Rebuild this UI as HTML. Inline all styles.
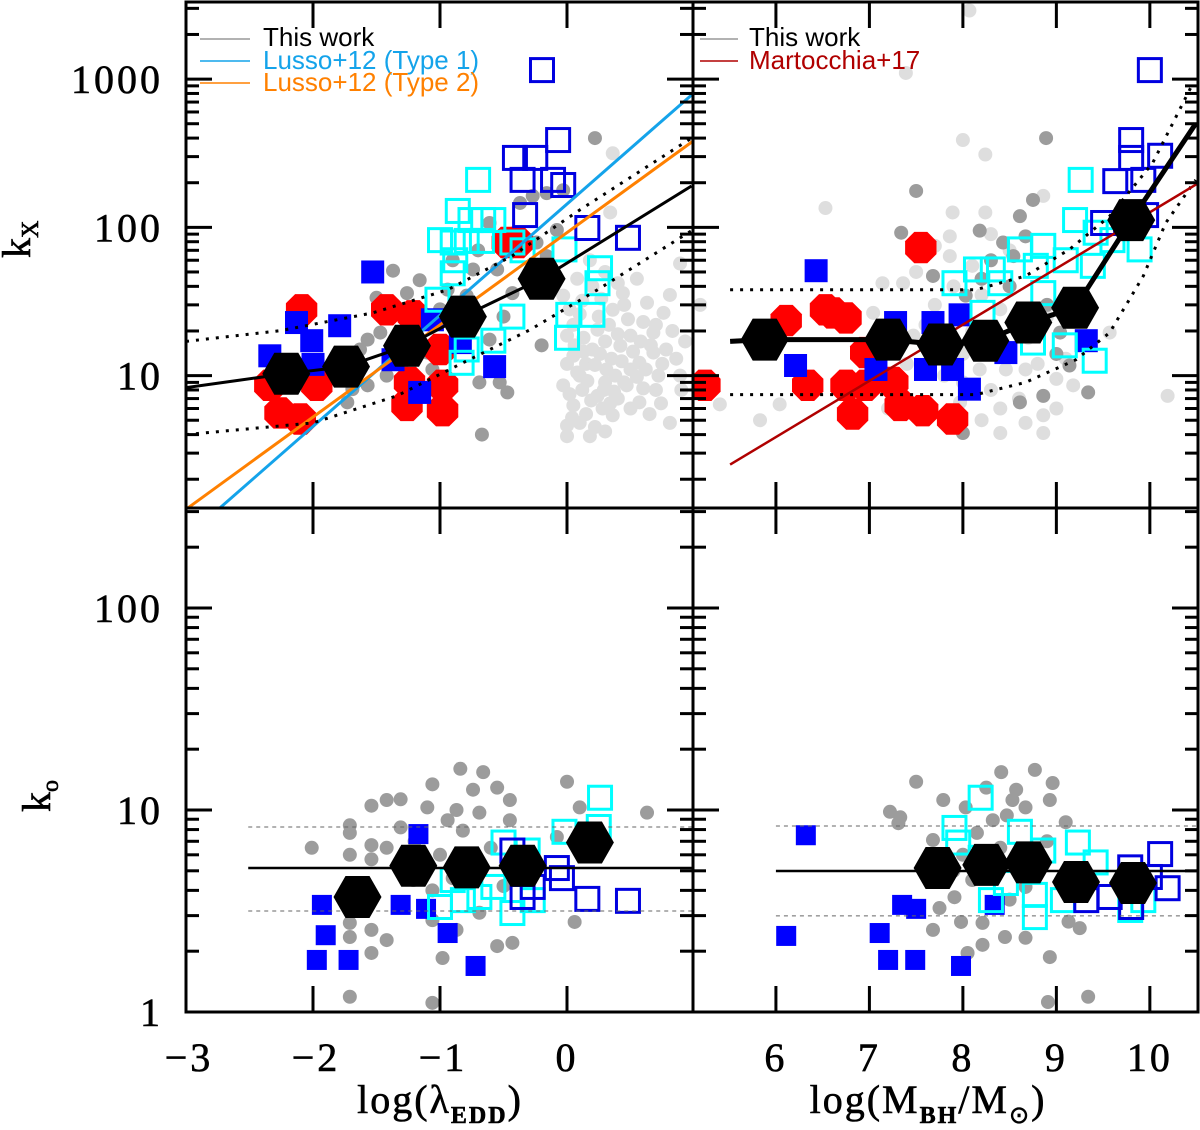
<!DOCTYPE html>
<html><head><meta charset="utf-8"><style>
html,body{margin:0;padding:0;background:#fff;}
svg{display:block;}
.tl{font-family:"Liberation Serif",serif;font-size:40px;fill:#000;letter-spacing:3px;stroke:#000;stroke-width:0.6px;}
.lg{font-family:"Liberation Sans",sans-serif;font-size:26px;}
</style></head><body>
<svg id="fig" width="1200" height="1130" viewBox="0 0 1200 1130" xmlns="http://www.w3.org/2000/svg">
<defs>
<clipPath id="cTL"><rect x="186" y="2" width="507" height="506"/></clipPath>
<clipPath id="cTR"><rect x="693" y="2" width="505" height="506"/></clipPath>
<clipPath id="cBL"><rect x="186" y="508" width="507" height="504"/></clipPath>
<clipPath id="cBR"><rect x="693" y="508" width="505" height="504"/></clipPath>
</defs>
<g id="layer"></g>
</svg>
<script>
// ---------- DATA ----------
const tlLightGray = [[0.36,316],[0.34,126],[0.89,57],[0.81,35],[0.63,31],[0.76,26.5],[0.44,36],[0.36,27.8],[0.24,20.4],[0.50,18.6],[0.68,14.3],[0.05,13.6],[0.10,10],[0.31,11],[0.47,8.6],[-0.03,8.6],[0.24,7.3],[0.36,5.4],[0.0,4.6],[0.18,3.9],[0.81,4.8],[0.57,6.6],[0.05,6.3],[0.89,10],[0.68,19.5],[-0.03,34.6],[0.57,12.2],[0.10,4.8],[0.42,15.9],[0.0,18.6],[0.15,12],[0.2,15],[0.3,9],[0.4,7],[0.12,8],[0.25,25],[0.05,22],[0.5,11],[0.7,8],[0.35,13],[0.15,5.5],[0.6,23],[0.08,10.5],[0.28,6],[0.45,30],[0.02,28],[0.2,40],[0.55,45],[0.75,12],[0.65,5.5],
[0.0,12],[0.02,7.5],[0.04,5.2],[0.06,16],[0.1,26],[0.13,18],[0.16,9.2],[0.19,6.8],[0.22,11.8],[0.22,4.5],[0.26,14],[0.29,8],[0.3,17],[0.33,22],[0.34,6.5],[0.38,10],[0.4,19],[0.43,12.5],[0.45,9],[0.48,24],[0.5,6],[0.52,14.5],[0.55,9.8],[0.58,17],[0.6,8.2],[0.62,11],[0.66,16],[0.7,22],[0.72,10],[0.74,6.5],[0.78,15],[0.83,20],[0.86,13],[0.9,8],[0.93,17],[0.12,32],[0.3,50],[0.4,42],[0.08,45],[0.18,60],[0.0,3.9],[0.3,4.2],[0.13,14.5],[0.37,7.8],[0.27,33]];
const tlGray = [[0.22,400],[-1.37,51],[-1.16,44],[-1.26,36],[-1.50,33.5],[-1.47,19.5],[-1.57,17.5],[-1.63,15],[-1.42,10],[-1.57,8.6],[-1.69,8.1],[-1.73,6.6],[-0.69,9],[-0.53,9],[-0.47,7.7],[-0.20,16],[-0.67,4.0],[-0.61,17.5],[-0.79,34.6],[-0.94,38],[-0.74,52],[-0.55,52],[-0.61,107],[-0.37,146],[-0.27,163],[-0.16,170],[-0.03,178],[-0.24,79],[-0.16,64],[-0.08,96],[-1.21,24],[-1.10,14.3],[-1.06,11],[-0.82,19.5],[-0.43,36],[-0.9,60],[-0.7,70],[-1.0,28],[-0.5,25],[-1.3,12]];
const tlRed = [[-2.09,27.8],[-2.34,8.6],[-2.26,5.6],[-2.10,5.1],[-1.97,8.6],[-1.42,27.8],[-1.21,25.3],[-1.0,15],[-1.24,9.0],[-1.26,6.3],[-0.98,8.6],[-0.98,5.8],[-0.47,79],[-0.39,79]];
const tlBlueFill = [[-1.53,50],[-2.34,13.6],[-2.13,22.8],[-2.01,17.2],[-1.79,21.7],[-2.0,11.9],[-1.37,12.8],[-1.06,23.8],[-0.84,16.7],[-0.57,11.5],[-1.16,7.7]];
const tlBlueOpen = [[-0.197,1150],[-0.41,294],[-0.25,294],[-0.07,388],[-0.35,209],[-0.11,209],[-0.03,193],[-0.33,121],[0.16,99],[0.48,85]];
const tlCyan = [[-0.70,209],[-0.86,129],[-0.76,112],[-0.66,112],[-0.58,112],[-1.0,82],[-0.90,79],[-0.79,81],[-0.67,81],[-0.88,60],[-0.90,49],[-0.43,79],[-0.35,70],[-0.02,71],[0.26,53],[0.24,42],[-1.02,32.5],[-0.43,25],[0.01,25.7],[0.20,25.7],[0.0,18],[-0.83,12.2],[-0.58,17.2],[-0.79,15]];
const tlHexX = [-2.21,-1.74,-1.26,-0.82,-0.20];
const tlHexY = [10.3,11.5,15.9,25,45];
const tlFitX = [-3,-2.21,-1.74,-1.26,-0.82,-0.20,0.98];
const tlFitY = [8.3,10.3,11.5,15.9,25,45,190];
const tlUpX = [-3,-2.26,-1.53,-0.94,-0.43,0.10,0.98];
const tlUpY = [17,20.1,26.5,37.9,64.3,131,400];
const tlLoX = [-3,-2,-1.34,-0.82,-0.29,0.24,0.98];
const tlLoY = [4.0,4.8,7.3,12.2,20.4,37.9,95];
const lusso1 = [0.125,0.75,-2.71];
const lusso2 = [0.111,0.622,-2.98];

const trLightGray = [[8.07,2900],[7.39,1100],[8.0,388],[8.24,310],[6.53,135],[5.19,30],[8.86,163],[9.57,19.5],[10.19,7.3],[5.83,5.0],[5.40,6.4],[6.04,6.4],[7.14,42],[7.36,42],[7.89,126],[7.86,87],[8.24,126],[8.40,4.1],[8.67,4.8],[8.86,4.1],[7.60,6.6],[7.11,14.3],[7.47,18.6],[8.18,11],[8.46,11],[8.86,5.4],[9.18,8.6],[8.67,11],[7.97,6.6],[7.04,26.5],[7.86,64],[8.3,8],[8.5,15],[8.1,20],[7.7,30],[8.9,25],[7.3,8],[8.0,14],[8.6,7],[9.0,9.5],[7.8,10],[8.4,28],
[7.5,50],[7.7,75],[8.1,55],[8.3,90],[8.5,70],[7.9,40],[8.2,35],[7.6,22],[8.7,18],[8.8,12],[9.1,13],[8.4,6],[8.2,5],[7.7,13],[7.4,12],[8.6,24],[9.0,6],[8.0,9],[7.2,6]];
const trGray = [[8.89,400],[7.50,176],[7.34,92],[8.18,95],[8.61,119],[8.75,153],[7.68,47],[8.43,79],[8.54,64],[9.04,19.5],[9.34,7.7],[8.86,7.3],[8.61,6.6],[8.0,4.1],[8.03,34.6],[8.67,87],[9.14,11.7],[8.3,60],[8.5,40],[8.9,30],[8.2,45],[9.0,14]];
const trRed = [[7.55,73],[5.24,8.6],[6.11,23.5],[6.53,27.8],[6.75,24.5],[6.34,8.6],[6.82,5.5],[6.75,8.6],[6.96,8.6],[7.25,9.0],[7.33,6.3],[7.57,5.8],[7.89,5.1],[6.96,14.3],[6.61,26.5]];
const trBlueFill = [[6.43,51],[6.21,11.7],[7.28,22.8],[7.68,22.8],[7.97,25.7],[7.60,11],[8.07,8.1],[8.46,14.3],[9.32,17.2],[7.89,11],[7.07,11]];
const trBlueOpen = [[10.0,1150],[9.80,388],[9.80,294],[10.11,304],[9.63,205],[9.93,209],[9.96,121],[9.50,107]];
const trCyan = [[9.26,209],[9.20,112],[8.14,52],[8.32,52],[7.91,42],[8.40,42],[8.61,71],[8.86,75],[8.78,55],[9.10,60],[9.39,55],[9.42,92],[9.89,71],[8.75,16.7],[9.09,16],[9.41,12.6],[8.86,36],[8.21,26.5],[9.60,82]];
const trHexX = [5.88,7.20,7.76,8.24,8.70,9.20,9.80];
const trHexY = [17.5,17.5,16.2,17.2,22.8,28.7,112];
const trFitX = [5.51,5.88,7.20,7.76,8.24,8.70,9.20,9.80,10.49];
const trFitY = [17,17.5,17.5,16.2,17.2,22.8,28.7,112,500];
const trUpX = [5.51,8.14,8.67,9.14,9.57,10.03,10.46];
const trUpY = [38,38,47,71,119,272,935];
const trLoX = [5.51,8.14,8.67,9.21,9.57,9.93,10.17,10.49];
const trLoY = [7.45,7.45,9.0,12.8,19.5,47,107,209];
const marto = [0.40,0.379,5.51];

const blGray = [[-0.84,16],[-0.66,15.4],[-1.06,13.4],[-0.74,12.6],[-0.55,12.9],[-1.54,10.5],[-1.42,11.2],[-1.31,11.3],[-0.45,11.2],[0.0,13.8],[0.63,9.7],[0.10,10.3],[-2.01,6.5],[-1.71,8.4],[-1.71,7.7],[-1.71,6.0],[-1.54,6.7],[-1.54,5.7],[-1.10,10.3],[-0.87,10],[-0.69,9.7],[-0.94,8.9],[-0.82,7.9],[-1.31,8.2],[-0.45,8.9],[-1.71,2.76],[-1.54,2.55],[-1.71,2.35],[-1.42,2.27],[-1.54,1.96],[-0.98,1.85],[-0.55,2.12],[-0.43,2.2],[-1.71,1.19],[-1.06,1.11],[0.06,2.79],[-1.06,2.85],[-1.42,6.5],[-1.21,4.5],[-1.06,4.0],[-0.69,3.1],[-0.87,2.55],[-0.08,7.35],[-1.0,6],[-0.6,6.5],[-1.2,7],[-0.9,4.6],[-0.5,4.2]];
const blBlueFill = [[-1.93,3.39],[-1.90,2.4],[-1.97,1.81],[-1.72,1.81],[-1.17,7.6],[-1.31,3.39],[-1.11,3.24],[-0.94,2.46],[-0.72,1.69]];
const blBlueOpen = [[0.16,3.63],[0.48,3.55],[-0.08,5.16],[-0.04,4.6],[-0.27,4.16],[-0.43,6.3],[-0.35,3.71]];
const blCyan = [[0.26,11.5],[0.25,8.24],[-0.02,7.8],[-0.50,6.9],[-0.31,6.3],[-0.43,3.09],[-1.0,3.31],[-0.82,3.58],[-0.69,3.71],[-0.90,4.5],[-0.58,4.16],[-0.27,3.58]];
const blHexX = [-1.65,-1.21,-0.79,-0.35,0.18];
const blHexY = [3.71,5.3,5.2,5.3,6.9];
const blMed = [-2.51,5.16,8.24,3.16];

const brGray = [[8.41,15.4],[8.77,15.8],[7.50,13.8],[8.96,13.6],[8.25,12.9],[8.57,12.6],[8.93,11.2],[7.79,11.2],[7.22,9.8],[7.33,9.2],[7.31,8.6],[8.03,10.3],[8.67,10.3],[9.10,8.7],[8.47,9.4],[7.68,7.1],[8.15,7.7],[7.75,3.27],[7.98,2.79],[7.68,2.55],[8.21,2.76],[8.21,2.15],[8.05,1.96],[8.45,2.35],[8.67,2.33],[8.93,1.87],[9.25,2.6],[9.13,2.8],[8.91,1.12],[9.34,1.19],[7.91,3.7],[8.53,11.2],[8.32,8.9],[8.67,4.16],[8.0,6],[8.4,6.5],[8.9,7],[8.1,4.5],[7.9,5],[8.5,3.6]];
const brBlueFill = [[6.32,7.5],[6.11,2.38],[7.11,2.46],[7.20,1.81],[7.49,1.81],[7.98,1.69],[7.35,3.39],[7.50,3.24],[8.34,3.39]];
const brBlueOpen = [[10.11,6.05],[10.19,4.1],[9.79,5.2],[10.0,4.66],[9.32,3.58],[9.57,3.71],[9.80,3.31]];
const brCyan = [[8.19,11.5],[7.91,8.15],[7.95,6.9],[8.61,7.8],[8.86,6.3],[9.23,6.9],[9.42,5.5],[8.30,3.58],[8.77,2.95],[8.77,3.8],[9.07,3.58],[9.79,3.2],[9.93,3.58],[8.19,5.8],[8.46,4.35]];
const brHexX = [7.73,8.25,8.70,9.21,9.82];
const brHexY = [5.16,5.35,5.5,4.4,4.35];
const brMed = [6.0,4.99,8.33,2.99];

const topYTicks = [1000,100,10];
const botYTicks = [100,10,1];
const leftXTicks = [-3,-2,-1,0];
const rightXTicks = [6,7,8,9,10];

// ---------- AXES ----------
const L = {x0:186,x1:693,xmin:-3,xmax:0.992};
const R = {x0:693,x1:1198,xmin:5.113,xmax:10.515};
const T = {y0:2,y1:508,lmin:0.107,lmax:3.52};
const B = {y0:508,y1:1012,lmin:0,lmax:2.495};
function sx(P,v){return P.x0+(v-P.xmin)/(P.xmax-P.xmin)*(P.x1-P.x0);}
function sy(Q,k){return Q.y1-(Math.log10(k)-Q.lmin)/(Q.lmax-Q.lmin)*(Q.y1-Q.y0);}

const NS='http://www.w3.org/2000/svg';
const root=document.getElementById('layer');
function mk(tag,attrs,parent){const e=document.createElementNS(NS,tag);for(const k in attrs)e.setAttribute(k,attrs[k]);(parent||root).appendChild(e);return e;}

function panel(id,P,Q,clip){
  const g=mk('g',{'clip-path':'url(#'+clip+')'});
  
  
  return g;
}
function dots(g,P,Q,arr,r,fill,name){
  const gg=mk('g',{},g);
  
  
  arr.forEach(d=>{const c=mk('circle',{cx:sx(P,d[0]),cy:sy(Q,d[1]),r:r,fill:fill},gg);
    
    });
}
function octs(g,P,Q,arr,r,fill,name){
  const gg=mk('g',{},g);
  
  
  arr.forEach(d=>{const cx=sx(P,d[0]),cy=sy(Q,d[1]);let pts=[];
    for(let i=0;i<8;i++){const a=Math.PI/8+i*Math.PI/4;pts.push((cx+r*Math.cos(a)).toFixed(1)+','+(cy+r*Math.sin(a)).toFixed(1));}
    const p=mk('polygon',{points:pts.join(' '),fill:fill},gg);
    
    });
}
function squares(g,P,Q,arr,s,fill,stroke,name){
  const gg=mk('g',{},g);
  
  
  arr.forEach(d=>{const cx=sx(P,d[0]),cy=sy(Q,d[1]);
    const a={x:cx-s/2,y:cy-s/2,width:s,height:s};
    if(fill){a.fill=fill;}else{a.fill='none';a.stroke=stroke;a['stroke-width']=3;}
    const r=mk('rect',a,gg);
    
    });
}
function hexes(g,P,Q,xs,ys,name){
  const gg=mk('g',{},g);
  
  
  xs.forEach((x,i)=>{const cx=sx(P,x),cy=sy(Q,ys[i]);const w=24,h=21;
    const pts=[[cx-w,cy],[cx-w/2,cy-h],[cx+w/2,cy-h],[cx+w,cy],[cx+w/2,cy+h],[cx-w/2,cy+h]].map(p=>p[0].toFixed(1)+','+p[1].toFixed(1)).join(' ');
    const p=mk('polygon',{points:pts,fill:'#000'},gg);
    
    });
}
function curve(g,P,Q,xs,ys,style,name){
  const pts=xs.map((x,i)=>sx(P,x).toFixed(1)+','+sy(Q,ys[i]).toFixed(1)).join(' ');
  const a=Object.assign({points:pts,fill:'none'},style);
  const p=mk('polyline',a,g);
  
  
}
function linfit(g,P,Q,par,color,w,name,x0){
  const xs=[x0!==undefined?x0:P.xmin,P.xmax];
  const pts=xs.map(x=>sx(P,x).toFixed(1)+','+sy(Q,Math.pow(10,par[0]+par[1]*(x-par[2]))).toFixed(1)).join(' ');
  const p=mk('polyline',{points:pts,fill:'none',stroke:color,'stroke-width':w},g);
  
  
}
function hline(g,P,Q,x0,k,style,name){
  const p=mk('line',Object.assign({x1:sx(P,x0),x2:P.x1,y1:sy(Q,k),y2:sy(Q,k)},style),g);
  
  
}
const dotted={stroke:'#000','stroke-width':3,'stroke-dasharray':'3 7','stroke-linecap':'butt'};
const dashed={stroke:'#666','stroke-width':1,'stroke-dasharray':'4 4'};

let g=panel('top-left',L,T,'cTL');
dots(g,L,T,tlLightGray,7,'#dedede','tl-light-gray');
dots(g,L,T,tlGray,7,'#9c9c9c','tl-gray');
octs(g,L,T,tlRed,17,'#ff0000','tl-red');
squares(g,L,T,tlBlueFill,23,'#0000ff',null,'tl-blue-filled');
squares(g,L,T,tlCyan,23,null,'#00ffff','tl-cyan-open');
squares(g,L,T,tlBlueOpen,23,null,'#0000e0','tl-blue-open');
linfit(g,L,T,lusso1,'#14a3ea',3,'lusso-type1-line');
linfit(g,L,T,lusso2,'#ff8000',3,'lusso-type2-line');
curve(g,L,T,tlUpX,tlUpY,dotted,'tl-upper-dotted');
curve(g,L,T,tlLoX,tlLoY,dotted,'tl-lower-dotted');
curve(g,L,T,tlFitX,tlFitY,{stroke:'#000','stroke-width':3},'tl-fit-line');
hexes(g,L,T,tlHexX,tlHexY,'tl-hex');

g=panel('top-right',R,T,'cTR');
dots(g,R,T,trLightGray,7,'#dedede','tr-light-gray');
dots(g,R,T,trGray,7,'#9c9c9c','tr-gray');
octs(g,R,T,trRed,17,'#ff0000','tr-red');
squares(g,R,T,trBlueFill,23,'#0000ff',null,'tr-blue-filled');
squares(g,R,T,trCyan,23,null,'#00ffff','tr-cyan-open');
squares(g,R,T,trBlueOpen,23,null,'#0000e0','tr-blue-open');
curve(g,R,T,trUpX,trUpY,dotted,'tr-upper-dotted');
curve(g,R,T,trLoX,trLoY,dotted,'tr-lower-dotted');
linfit(g,R,T,marto,'#b00000',2.5,'martocchia-line',5.51);
curve(g,R,T,trFitX,trFitY,{stroke:'#000','stroke-width':5},'tr-fit-line');
hexes(g,R,T,trHexX,trHexY,'tr-hex');

g=panel('bottom-left',L,B,'cBL');
dots(g,L,B,blGray,7,'#9c9c9c','bl-gray');
squares(g,L,B,blBlueFill,20,'#0000ff',null,'bl-blue-filled');
squares(g,L,B,blCyan,23,null,'#00ffff','bl-cyan-open');
squares(g,L,B,blBlueOpen,23,null,'#0000e0','bl-blue-open');
hline(g,L,B,blMed[0],blMed[2],dashed,'bl-upper-dashed');
hline(g,L,B,blMed[0],blMed[3],dashed,'bl-lower-dashed');
hline(g,L,B,blMed[0],blMed[1],{stroke:'#000','stroke-width':2.5},'bl-median-line');
hexes(g,L,B,blHexX,blHexY,'bl-hex');

g=panel('bottom-right',R,B,'cBR');
dots(g,R,B,brGray,7,'#9c9c9c','br-gray');
squares(g,R,B,brBlueFill,20,'#0000ff',null,'br-blue-filled');
squares(g,R,B,brCyan,23,null,'#00ffff','br-cyan-open');
squares(g,R,B,brBlueOpen,23,null,'#0000e0','br-blue-open');
hline(g,R,B,brMed[0],brMed[2],dashed,'br-upper-dashed');
hline(g,R,B,brMed[0],brMed[3],dashed,'br-lower-dashed');
hline(g,R,B,brMed[0],brMed[1],{stroke:'#000','stroke-width':2.5},'br-median-line');
hexes(g,R,B,brHexX,brHexY,'br-hex');

const ax=mk('g',{stroke:'#000','stroke-width':3,fill:'none'});


[[L,T],[R,T],[L,B],[R,B]].forEach(([P,Q])=>{
  mk('rect',{x:P.x0,y:Q.y0,width:P.x1-P.x0,height:Q.y1-Q.y0},ax);
  for(let d=-1;d<=4;d++)for(let m=1;m<=9;m++){
    const k=m*Math.pow(10,d);const lk=Math.log10(k);
    if(lk<Q.lmin||lk>Q.lmax)continue;const y=sy(Q,k);const len=m===1?26:13;
    mk('line',{x1:P.x0,x2:P.x0+len,y1:y,y2:y},ax);
    mk('line',{x1:P.x1,x2:P.x1-len,y1:y,y2:y},ax);
  }
});
[[L,leftXTicks],[R,rightXTicks]].forEach(([P,ticks])=>{
  ticks.forEach(t=>{const x=sx(P,t);
    [T,B].forEach(Q=>{mk('line',{x1:x,x2:x,y1:Q.y1,y2:Q.y1-26},ax);mk('line',{x1:x,x2:x,y1:Q.y0,y2:Q.y0+26},ax);});
  });
});

function txt(x,y,s,anchor,cls,name){const t=mk('text',{x:x,y:y,'text-anchor':anchor,class:cls});t.textContent=s;
  return t;}
topYTicks.forEach(k=>txt(163,sy(T,k)+14,String(k),'end','tl','y-tick-label-top'));
botYTicks.forEach(k=>txt(163,sy(B,k)+14,String(k),'end','tl','y-tick-label-bottom'));
leftXTicks.forEach(t=>txt(sx(L,t)+(t<0?3:0),1071,(t<0?'\u2212':'')+Math.abs(t),'middle','tl','x-tick-label-left'));
rightXTicks.forEach(t=>txt(sx(R,t),1071,String(t),'middle','tl','x-tick-label-right'));
</script>
<svg style="position:absolute;left:0;top:0" width="1200" height="1130">
 <g font-family="Liberation Serif, serif" font-size="40" fill="#000" stroke="#000" stroke-width="0.6">
  <text x="440" y="1113" text-anchor="middle" letter-spacing="2">log(λ<tspan font-size="24" dy="10" font-weight="bold">EDD</tspan><tspan dy="-10">)</tspan></text>
  <text x="928" y="1113" text-anchor="middle" letter-spacing="2">log(M<tspan font-size="24" dy="10" font-weight="bold">BH</tspan><tspan dy="-10">/M</tspan><tspan font-size="24" dy="10">⊙</tspan><tspan dy="-10">)</tspan></text>
  <text transform="translate(30,258) rotate(-90)" text-anchor="start">k<tspan font-size="24" dy="8">X</tspan></text>
  <text transform="translate(50,812) rotate(-90)" text-anchor="start">k<tspan font-size="24" dy="8">o</tspan></text>
 </g>
 <g class="lg">
  <line x1="200" y1="39" x2="250" y2="39" stroke="#999" stroke-width="1.5"/>
  <line x1="200" y1="61" x2="250" y2="61" stroke="#14a3ea" stroke-width="1.5"/>
  <line x1="200" y1="83" x2="250" y2="83" stroke="#ff8000" stroke-width="1.5"/>
  <text x="263" y="46" fill="#000">This work</text>
  <text x="263" y="69" fill="#14a3ea">Lusso+12 (Type 1)</text>
  <text x="263" y="91" fill="#ff8000">Lusso+12 (Type 2)</text>
 </g>
 <g class="lg">
  <line x1="700" y1="39" x2="738" y2="39" stroke="#999" stroke-width="1.5"/>
  <line x1="700" y1="61" x2="738" y2="61" stroke="#b00000" stroke-width="1.5"/>
  <text x="749" y="46" fill="#000">This work</text>
  <text x="749" y="69" fill="#b00000">Martocchia+17</text>
 </g>
</svg>
</body></html>
